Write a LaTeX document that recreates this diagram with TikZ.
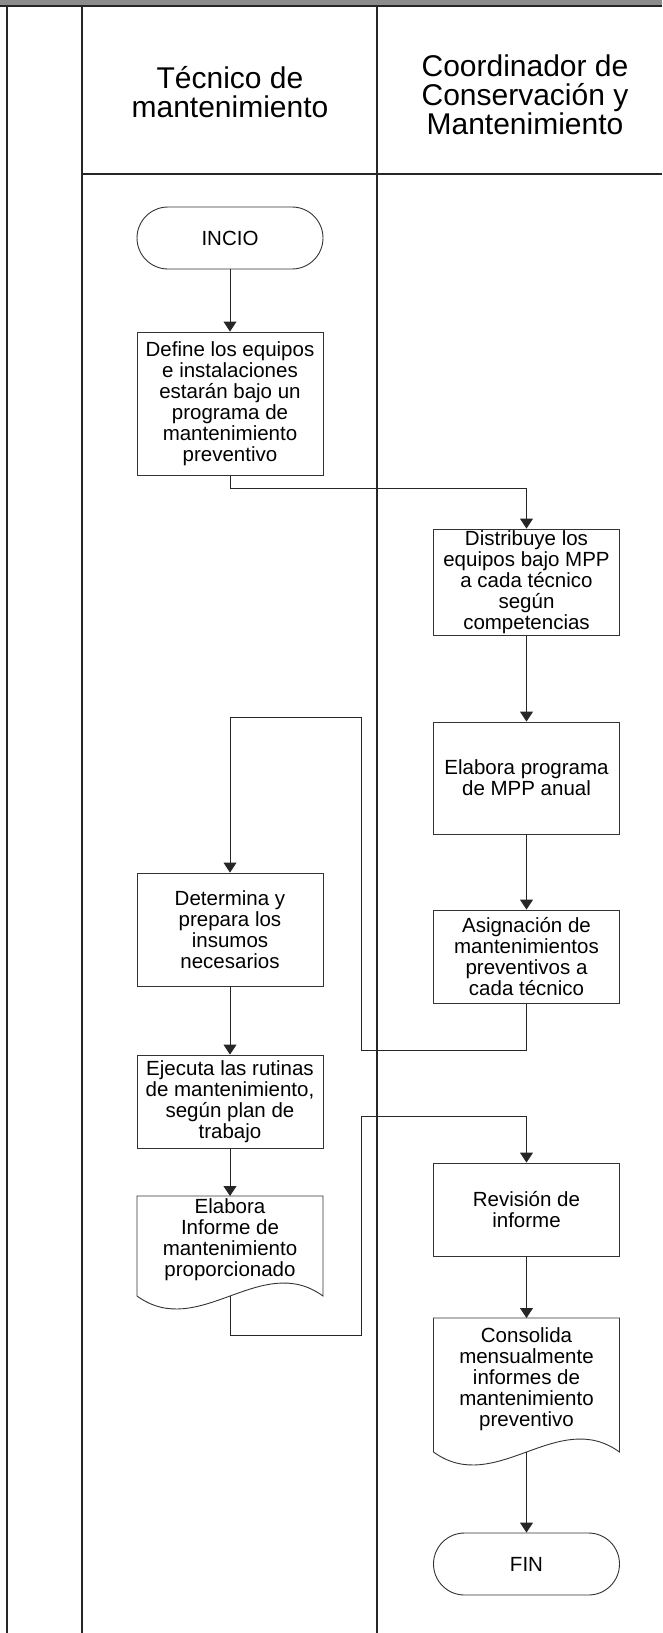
\documentclass[tikz,border=0pt]{standalone}
\usepackage{fontspec}
\setmainfont{Liberation Sans}
\usetikzlibrary{arrows.meta}

\begin{document}
\begin{tikzpicture}[x=1pt,y=-1pt,
  lane/.style={line width=1.6pt, draw=black!85},
  box/.style={draw=black!80, line width=0.9pt, fill=white, rectangle, inner sep=0pt,
    minimum width=186pt, align=center, font=\fontsize{20.5}{20.9}\selectfont},
  term/.style={box, rounded corners=31pt, minimum height=62pt},
  doctext/.style={inner sep=0pt, align=center, font=\fontsize{20.5}{20.9}\selectfont},
  docshape/.style={draw=black!80, line width=0.9pt, fill=white},
  head/.style={inner sep=0pt, align=center, font=\fontsize{30}{29}\selectfont},
  flow/.style={draw=black!85, line width=0.9pt, -{Triangle[width=13pt,length=10pt]}}
]
\useasboundingbox (0,0) rectangle (662,1633);

% swimlane frame
\fill[black!45] (0,0) rectangle (662,5);
\draw[lane] (0,6) -- (662,6);
\draw[lane] (7,6) -- (7,1633);
\draw[lane] (82,6) -- (82,1633);
\draw[lane] (377,6) -- (377,1633);
\draw[lane] (82,174) -- (662,174);

% lane headers
\node[head] (h1) at (230,92) {Técnico de\\mantenimiento};
\node[head] (h2) at (525,95) {Coordinador de\\Conservación y\\Mantenimiento};

% left lane
\node[term] (inicio) at (230,238) {INCIO};
\node[box, minimum height=143pt] (define) at (230,403.5)
  {Define los equipos\\e instalaciones\\estarán bajo un\\programa de\\mantenimiento\\preventivo};
\node[box, minimum height=113pt] (determ) at (230,929.5)
  {Determina y\\prepara los\\insumos\\necesarios};
\node[box, minimum height=93pt] (ejecuta) at (230,1101.5)
  {Ejecuta las rutinas\\de mantenimiento,\\según plan de\\trabajo};

% document: Elabora informe
\path[docshape] (137,1196) -- (323,1196) -- (323,1296)
  .. controls (261,1251) and (199,1341) .. (137,1296) -- cycle;
\node[doctext] (informe) at (230,1240)
  {Elabora\\Informe de\\mantenimiento\\proporcionado};
\coordinate (informeB) at (230,1296);

% right lane
\node[box, minimum height=106pt] (distrib) at (526.5,582)
  {Distribuye los\\equipos bajo MPP\\a cada técnico\\según\\competencias};
\node[box, minimum height=112pt] (progr) at (526.5,778)
  {Elabora programa\\de MPP anual};
\node[box, minimum height=93pt] (asigna) at (526.5,956.5)
  {Asignación de\\mantenimientos\\preventivos a\\cada técnico};
\node[box, minimum height=93pt] (revision) at (526.5,1209.5)
  {Revisión de\\informe};

% document: Consolida
\path[docshape] (433.5,1318) -- (619.5,1318) -- (619.5,1452)
  .. controls (557.5,1407) and (495.5,1497) .. (433.5,1452) -- cycle;
\node[doctext] (consol) at (526.5,1379)
  {Consolida\\mensualmente\\informes de\\mantenimiento\\preventivo};
\coordinate (consolB) at (526.5,1452);

\node[term] (fin) at (526.5,1564) {FIN};

% connectors
\draw[flow] (inicio.south) -- (define.north);
\draw[flow] (define.south) -- ++(0,13) -| (distrib.north);
\draw[flow] (distrib.south) -- (progr.north);
\draw[flow] (progr.south) -- (asigna.north);
\draw[flow] (asigna.south) |- (361,1050) -- (361,717) -| (determ.north);
\draw[flow] (determ.south) -- (ejecuta.north);
\draw[flow] (ejecuta.south) -- (informe.north |- 0,1196);
\draw[flow] (informeB) |- (361,1335) -- (361,1116) -| (revision.north);
\draw[flow] (revision.south) -- (consol.north |- 0,1318);
\draw[flow] (consolB) -- (fin.north);
\end{tikzpicture}
\end{document}
